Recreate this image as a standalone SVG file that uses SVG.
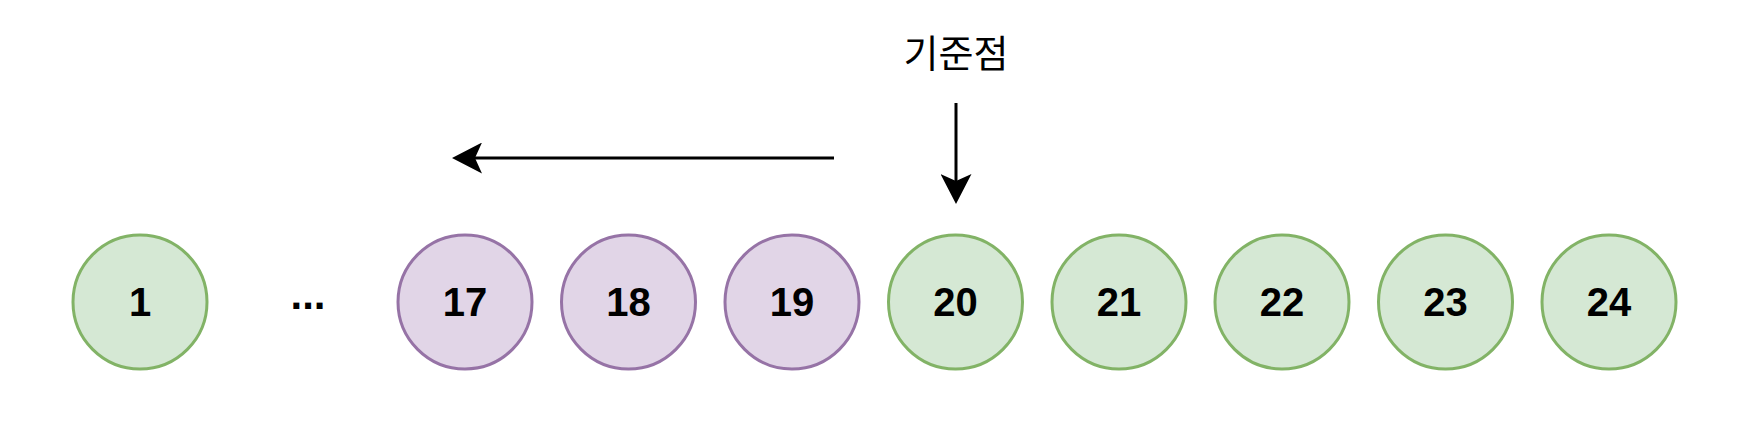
<svg xmlns="http://www.w3.org/2000/svg" width="1744" height="432" viewBox="0 0 1744 432">
<style>
.g{fill:#d5e8d4;stroke:#82b366;stroke-width:3}
.p{fill:#e1d5e7;stroke:#9673a6;stroke-width:3}
.n{font-family:"Liberation Sans",Arial,sans-serif;font-weight:bold;font-size:40px;text-anchor:middle;fill:#000}
.k{font-family:"Noto Sans CJK KR","Noto Sans",sans-serif;font-size:38px;text-anchor:middle;fill:#000}
.c{stroke:#000;stroke-width:3;fill:none}
</style>
<defs>
<marker id="arr" markerUnits="userSpaceOnUse" markerWidth="30" markerHeight="31" viewBox="0 0 30 31" refX="7" refY="15.5" orient="auto">
<path d="M30,15.5 L0,0 L7,15.5 L0,31 Z" fill="#000"/>
</marker>
</defs>
<rect width="1744" height="432" fill="#fff"/>
<g id="label"><text class="k" x="956" y="67">기준점</text></g>
<g id="connectors">
<path class="c" d="M834,158 L475,158" marker-end="url(#arr)"/>
<path class="c" d="M956,103 L956,181" marker-end="url(#arr)"/>
</g>
<g id="n1"><circle class="g" cx="140" cy="302" r="67"/><text class="n" x="140" y="316">1</text></g>
<g id="ellipsis"><text class="n" x="308" y="309" style="font-size:42px">...</text></g>
<g id="n17"><circle class="p" cx="465" cy="302" r="67"/><text class="n" x="465" y="316">17</text></g>
<g id="n18"><circle class="p" cx="628.5" cy="302" r="67"/><text class="n" x="628.5" y="316">18</text></g>
<g id="n19"><circle class="p" cx="792" cy="302" r="67"/><text class="n" x="792" y="316">19</text></g>
<g id="n20"><circle class="g" cx="955.5" cy="302" r="67"/><text class="n" x="955.5" y="316">20</text></g>
<g id="n21"><circle class="g" cx="1119" cy="302" r="67"/><text class="n" x="1119" y="316">21</text></g>
<g id="n22"><circle class="g" cx="1282" cy="302" r="67"/><text class="n" x="1282" y="316">22</text></g>
<g id="n23"><circle class="g" cx="1445.5" cy="302" r="67"/><text class="n" x="1445.5" y="316">23</text></g>
<g id="n24"><circle class="g" cx="1609" cy="302" r="67"/><text class="n" x="1609" y="316">24</text></g>
</svg>
